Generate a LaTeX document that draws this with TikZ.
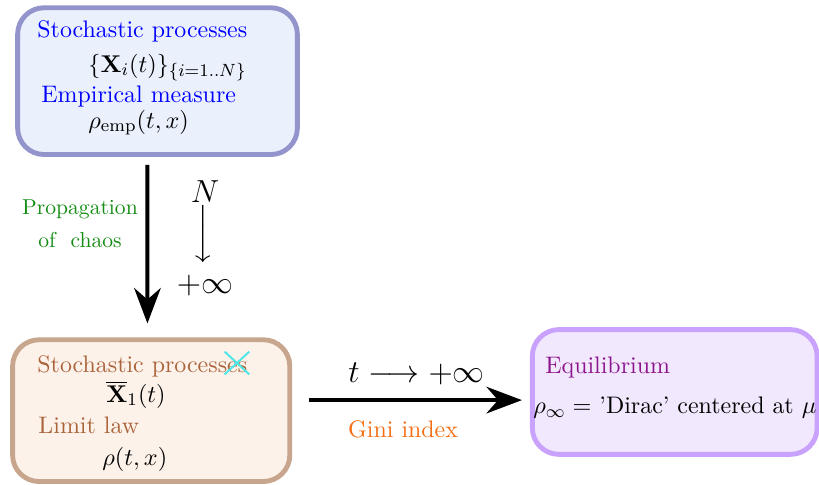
\documentclass[tikz,border=0pt]{standalone}
\usepackage{amsmath}
\usepackage{amssymb}
\usetikzlibrary{arrows.meta}
\usetikzlibrary{shapes.misc}

\definecolor{empfill}{RGB}{234,240,252}
\definecolor{empdraw}{RGB}{148,148,204}
\definecolor{limfill}{RGB}{253,242,234}
\definecolor{limdraw}{RGB}{200,166,142}
\definecolor{eqfill}{RGB}{241,232,253}
\definecolor{eqdraw}{RGB}{200,162,252}
\definecolor{limtext}{RGB}{170,100,60}
\definecolor{chaostext}{RGB}{20,140,20}
\definecolor{ginitext}{RGB}{245,110,20}
\definecolor{eqtext}{RGB}{140,20,140}
\definecolor{striketext}{RGB}{80,230,230}

\tikzset{
  box/.style={rounded corners=0.42cm, line width=2.2pt},
  lbl/.style={anchor=base west, inner sep=0pt, font=\fontsize{10.8}{13}\selectfont},
  biglbl/.style={inner sep=0pt, font=\fontsize{14.5}{17}\selectfont},
  bigarrow/.style={line width=1.8pt, -{Stealth[length=16pt,width=12pt]}},
}

\begin{document}
\begin{tikzpicture}
  \useasboundingbox (0,0) rectangle (13,7.698);
  % boxes
  \node[box, draw=empdraw, fill=empfill, minimum width=4.44cm, minimum height=2.33cm] (emp) at (2.5,6.41) {};
  \node[box, draw=limdraw, fill=limfill, minimum width=4.40cm, minimum height=2.25cm] (lim) at (2.40,1.18) {};
  \node[box, draw=eqdraw, fill=eqfill, minimum width=4.52cm, minimum height=1.98cm] (eq) at (10.71,1.476) {};

  % top box
  \node[lbl, text=blue] (emp-t1) at (0.587,7.110) {Stochastic processes};
  \node[lbl] (emp-m1) at (1.397,6.554) {$\{\mathbf{X}_i(t)\}_{\{i=1..N\}}$};
  \node[lbl, text=blue] (emp-t2) at (0.651,6.078) {Empirical measure};
  \node[lbl] (emp-m2) at (1.397,5.666) {$\rho_{\mathrm{emp}}(t,x)$};

  % bottom left box
  \node[lbl, text=limtext] (lim-t1) at (0.587,1.793) {Stochastic processes};
  \node[cross out, draw=striketext, line width=0.9pt, inner sep=0pt, minimum width=0.36cm, minimum height=0.33cm] (strike) at (3.761,1.936) {};
  \node[lbl] (lim-m1) at (1.682,1.317) {$\overline{\mathbf{X}}_1(t)$};
  \node[lbl, text=limtext] (lim-t2) at (0.603,0.825) {Limit law};
  \node[lbl] (lim-m2) at (1.619,0.317) {$\rho(t,x)$};

  % right box
  \node[lbl, text=eqtext] (eq-t1) at (8.649,1.777) {Equilibrium};
  \node[lbl] (eq-m1) at (8.459,1.127) {$\rho_\infty =$ 'Dirac' centered at $\mu$};

  % propagation of chaos
  \draw[bigarrow, shorten <=0.127cm, shorten >=0.22cm]
    ([xshift=-0.159cm]emp.south) -- ([xshift=-0.06cm]lim.north);
  \node[lbl, anchor=center, align=center, text=chaostext, font=\fontsize{9.75}{15}\selectfont] (chaos) at (1.27,4.15) {Propagation\\of\hspace{3.5pt} chaos};
  \node[biglbl, anchor=base] (nlbl) at (3.253,4.491) {$N$};
  \node[biglbl] (ndown) at (3.253,3.983) {$\left\downarrow\vrule height 9pt depth 9pt width 0pt\right.$};
  \node[biglbl, anchor=base] (ninf) at (3.253,3.047) {$+\infty$};

  % long time
  \draw[bigarrow, shorten <=0.27cm, shorten >=0.127cm]
    ([yshift=0.167cm]lim.east) -- ([yshift=0.167cm]lim.east -| eq.west)
    node[biglbl, midway, anchor=base, xshift=0.087cm, yshift=0.286cm] (tlim) {$t \longrightarrow +\infty$}
    node[lbl, midway, anchor=base, text=ginitext, xshift=-0.127cm, yshift=-0.587cm] (gini) {Gini index};
\end{tikzpicture}
\end{document}
